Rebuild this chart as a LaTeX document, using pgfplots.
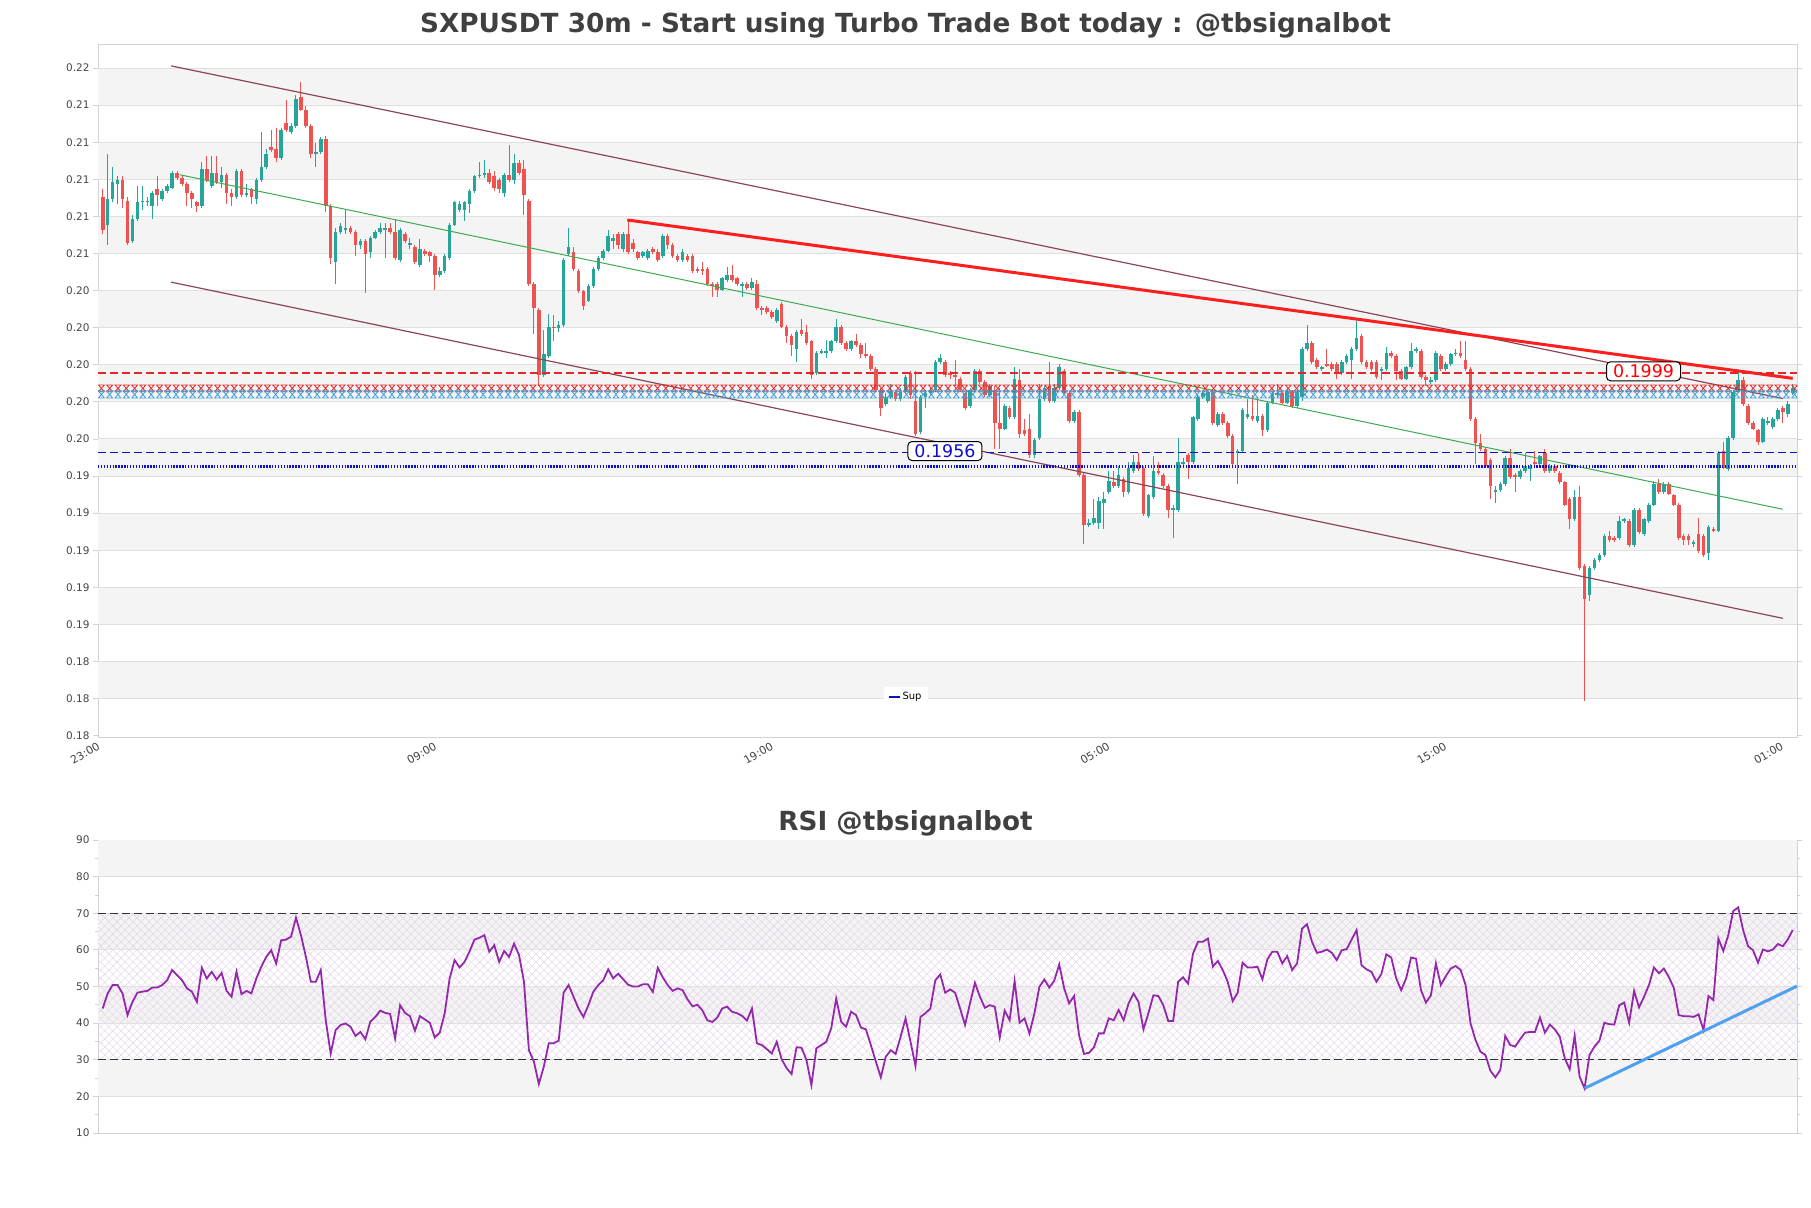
\documentclass[border=0pt]{standalone}
\usepackage{fontspec}
\setmainfont{DejaVu Sans}
\usepackage{pgfplots}
\pgfplotsset{compat=1.18}
\usepackage{pgfplotstable}
\usetikzlibrary{patterns.meta,decorations.markings}

\definecolor{upc}{RGB}{38,166,154}
\definecolor{dnc}{RGB}{239,83,80}
\definecolor{band}{RGB}{244,244,244}
\definecolor{gridc}{RGB}{224,224,224}
\definecolor{framec}{RGB}{210,210,210}
\definecolor{tickc}{RGB}{68,68,68}
\definecolor{titlec}{RGB}{64,64,64}
\definecolor{chan}{RGB}{140,70,85}
\definecolor{midg}{RGB}{60,170,80}
\definecolor{resred}{RGB}{255,30,30}
\definecolor{dashred}{RGB}{225,40,40}
\definecolor{supblue}{RGB}{15,15,200}
\definecolor{cyanc}{RGB}{60,160,220}
\definecolor{rsic}{RGB}{148,40,170}
\definecolor{trendc}{RGB}{80,160,240}
\definecolor{hatchc}{RGB}{226,206,232}

% o h l c
\pgfplotstableread{
o h l c
0.2094 0.2098 0.2074 0.2076
0.2079 0.2117 0.2068 0.2093
0.2093 0.2110 0.2091 0.2102
0.2101 0.2105 0.2090 0.2103
0.2103 0.2105 0.2088 0.2093
0.2092 0.2094 0.2068 0.2069
0.2070 0.2084 0.2069 0.2082
0.2082 0.2100 0.2081 0.2091
0.2091 0.2100 0.2087 0.2092
0.2091 0.2094 0.2089 0.2092
0.2089 0.2097 0.2082 0.2096
0.2098 0.2105 0.2089 0.2095
0.2093 0.2098 0.2092 0.2097
0.2097 0.2101 0.2096 0.2100
0.2099 0.2108 0.2098 0.2107
0.2107 0.2108 0.2103 0.2104
0.2104 0.2105 0.2100 0.2101
0.2101 0.2102 0.2089 0.2096
0.2096 0.2097 0.2088 0.2093
0.2091 0.2092 0.2086 0.2089
0.2089 0.2113 0.2088 0.2109
0.2109 0.2116 0.2102 0.2103
0.2100 0.2116 0.2099 0.2107
0.2107 0.2116 0.2101 0.2102
0.2102 0.2110 0.2099 0.2106
0.2106 0.2107 0.2090 0.2096
0.2096 0.2098 0.2089 0.2094
0.2094 0.2109 0.2093 0.2108
0.2108 0.2109 0.2094 0.2095
0.2095 0.2101 0.2094 0.2096
0.2098 0.2099 0.2090 0.2094
0.2093 0.2104 0.2090 0.2103
0.2103 0.2129 0.2102 0.2110
0.2110 0.2120 0.2109 0.2117
0.2121 0.2130 0.2118 0.2119
0.2120 0.2131 0.2113 0.2115
0.2115 0.2131 0.2114 0.2130
0.2134 0.2146 0.2129 0.2130
0.2129 0.2134 0.2128 0.2132
0.2132 0.2149 0.2131 0.2147
0.2148 0.2156 0.2140 0.2141
0.2141 0.2143 0.2131 0.2132
0.2132 0.2133 0.2115 0.2117
0.2117 0.2123 0.2110 0.2118
0.2118 0.2126 0.2117 0.2125
0.2125 0.2127 0.2086 0.2089
0.2089 0.2090 0.2058 0.2061
0.2059 0.2077 0.2047 0.2075
0.2075 0.2080 0.2074 0.2078
0.2076 0.2087 0.2074 0.2077
0.2077 0.2078 0.2074 0.2075
0.2075 0.2076 0.2062 0.2068
0.2068 0.2071 0.2066 0.2070
0.2070 0.2071 0.2042 0.2063
0.2064 0.2073 0.2061 0.2072
0.2072 0.2076 0.2071 0.2075
0.2075 0.2080 0.2074 0.2077
0.2076 0.2080 0.2061 0.2077
0.2077 0.2080 0.2074 0.2075
0.2075 0.2082 0.2060 0.2061
0.2060 0.2077 0.2059 0.2076
0.2074 0.2075 0.2069 0.2070
0.2068 0.2072 0.2066 0.2069
0.2067 0.2068 0.2058 0.2059
0.2057 0.2071 0.2056 0.2066
0.2065 0.2066 0.2062 0.2063
0.2064 0.2065 0.2059 0.2062
0.2062 0.2063 0.2044 0.2052
0.2052 0.2056 0.2051 0.2054
0.2054 0.2063 0.2053 0.2062
0.2061 0.2080 0.2060 0.2079
0.2079 0.2092 0.2078 0.2091
0.2087 0.2092 0.2086 0.2090
0.2087 0.2092 0.2081 0.2091
0.2090 0.2098 0.2085 0.2097
0.2097 0.2106 0.2096 0.2105
0.2105 0.2113 0.2104 0.2106
0.2106 0.2114 0.2104 0.2107
0.2107 0.2109 0.2101 0.2102
0.2105 0.2108 0.2097 0.2099
0.2103 0.2104 0.2096 0.2098
0.2096 0.2107 0.2094 0.2106
0.2106 0.2122 0.2102 0.2103
0.2103 0.2117 0.2101 0.2112
0.2112 0.2114 0.2106 0.2107
0.2109 0.2114 0.2084 0.2095
0.2092 0.2093 0.2046 0.2047
0.2047 0.2048 0.2020 0.2034
0.2033 0.2034 0.1992 0.1998
0.1998 0.2022 0.1997 0.2009
0.2008 0.2031 0.2007 0.2024
0.2024 0.2030 0.2016 0.2023
0.2023 0.2027 0.2021 0.2025
0.2025 0.2061 0.2024 0.2060
0.2063 0.2077 0.2062 0.2067
0.2064 0.2067 0.2054 0.2055
0.2054 0.2055 0.2042 0.2043
0.2043 0.2044 0.2033 0.2035
0.2038 0.2047 0.2037 0.2046
0.2046 0.2056 0.2045 0.2055
0.2055 0.2062 0.2054 0.2061
0.2061 0.2066 0.2060 0.2065
0.2065 0.2076 0.2064 0.2073
0.2070 0.2074 0.2066 0.2072
0.2074 0.2075 0.2066 0.2068
0.2066 0.2075 0.2064 0.2074
0.2074 0.2082 0.2063 0.2064
0.2069 0.2071 0.2064 0.2066
0.2064 0.2065 0.2060 0.2061
0.2062 0.2065 0.2061 0.2064
0.2061 0.2066 0.2060 0.2065
0.2066 0.2067 0.2063 0.2064
0.2064 0.2066 0.2059 0.2060
0.2062 0.2074 0.2061 0.2073
0.2073 0.2074 0.2066 0.2068
0.2068 0.2069 0.2061 0.2062
0.2062 0.2063 0.2059 0.2060
0.2060 0.2066 0.2059 0.2064
0.2062 0.2063 0.2059 0.2060
0.2062 0.2063 0.2053 0.2054
0.2055 0.2056 0.2053 0.2054
0.2055 0.2059 0.2052 0.2054
0.2055 0.2056 0.2046 0.2047
0.2047 0.2048 0.2040 0.2046
0.2047 0.2048 0.2040 0.2044
0.2044 0.2051 0.2043 0.2050
0.2049 0.2056 0.2048 0.2052
0.2052 0.2057 0.2048 0.2049
0.2050 0.2051 0.2046 0.2047
0.2046 0.2048 0.2040 0.2047
0.2047 0.2048 0.2044 0.2045
0.2045 0.2050 0.2044 0.2048
0.2047 0.2049 0.2033 0.2034
0.2034 0.2035 0.2030 0.2033
0.2034 0.2035 0.2031 0.2032
0.2032 0.2033 0.2028 0.2029
0.2027 0.2034 0.2026 0.2033
0.2036 0.2037 0.2023 0.2024
0.2024 0.2025 0.2015 0.2019
0.2019 0.2020 0.2008 0.2014
0.2012 0.2022 0.2005 0.2021
0.2022 0.2028 0.2019 0.2020
0.2021 0.2025 0.2014 0.2015
0.2016 0.2017 0.1996 0.1998
0.1999 0.2011 0.1998 0.2010
0.2010 0.2012 0.2009 0.2011
0.2010 0.2017 0.2007 0.2011
0.2011 0.2017 0.2010 0.2016
0.2016 0.2028 0.2015 0.2024
0.2024 0.2025 0.2014 0.2015
0.2015 0.2016 0.2011 0.2012
0.2012 0.2017 0.2011 0.2016
0.2016 0.2020 0.2013 0.2014
0.2014 0.2015 0.2007 0.2009
0.2009 0.2015 0.2007 0.2008
0.2008 0.2009 0.2000 0.2001
0.2001 0.2002 0.1989 0.1990
0.1990 0.1991 0.1976 0.1980
0.1982 0.1988 0.1981 0.1986
0.1986 0.1993 0.1985 0.1989
0.1989 0.1990 0.1984 0.1985
0.1985 0.1991 0.1984 0.1989
0.1989 0.1998 0.1988 0.1997
0.1999 0.2000 0.1985 0.1987
0.1984 0.2000 0.1965 0.1966
0.1967 0.1987 0.1966 0.1986
0.1986 0.1990 0.1980 0.1988
0.1988 0.1991 0.1987 0.1990
0.1990 0.2006 0.1989 0.2005
0.2005 0.2009 0.2004 0.2007
0.2005 0.2006 0.1997 0.1998
0.1999 0.2000 0.1996 0.1998
0.1998 0.2006 0.1992 0.1997
0.1996 0.1997 0.1989 0.1990
0.1988 0.1989 0.1979 0.1980
0.1981 0.1991 0.1980 0.1990
0.1990 0.2001 0.1989 0.2000
0.2000 0.2001 0.1993 0.1994
0.1994 0.1995 0.1986 0.1987
0.1987 0.1993 0.1986 0.1992
0.1990 0.1992 0.1958 0.1972
0.1972 0.1991 0.1958 0.1969
0.1969 0.1982 0.1968 0.1981
0.1980 0.1981 0.1974 0.1975
0.1975 0.2002 0.1974 0.1996
0.1995 0.2001 0.1964 0.1966
0.1968 0.1974 0.1965 0.1966
0.1969 0.1977 0.1953 0.1955
0.1955 0.1964 0.1953 0.1963
0.1964 0.1993 0.1963 0.1985
0.1985 0.1992 0.1984 0.1991
0.1992 0.2005 0.1983 0.1984
0.1984 0.1993 0.1983 0.1991
0.1991 0.2004 0.1990 0.2002
0.2000 0.2001 0.1987 0.1988
0.1988 0.1989 0.1972 0.1973
0.1973 0.1979 0.1972 0.1978
0.1978 0.1979 0.1943 0.1944
0.1944 0.1945 0.1907 0.1917
0.1917 0.1920 0.1916 0.1918
0.1918 0.1931 0.1917 0.1921
0.1918 0.1932 0.1915 0.1930
0.1929 0.1935 0.1915 0.1931
0.1935 0.1946 0.1934 0.1941
0.1940 0.1946 0.1937 0.1938
0.1938 0.1949 0.1937 0.1944
0.1942 0.1943 0.1932 0.1935
0.1935 0.1951 0.1934 0.1948
0.1946 0.1955 0.1945 0.1951
0.1951 0.1956 0.1946 0.1947
0.1948 0.1949 0.1922 0.1923
0.1922 0.1934 0.1921 0.1933
0.1932 0.1954 0.1931 0.1946
0.1946 0.1951 0.1944 0.1945
0.1944 0.1945 0.1937 0.1938
0.1938 0.1939 0.1921 0.1925
0.1925 0.1928 0.1910 0.1926
0.1925 0.1964 0.1924 0.1951
0.1950 0.1953 0.1949 0.1951
0.1955 0.1956 0.1942 0.1951
0.1951 0.1976 0.1950 0.1975
0.1974 0.1987 0.1973 0.1986
0.1986 0.1989 0.1985 0.1988
0.1984 0.1990 0.1983 0.1989
0.1989 0.1990 0.1971 0.1972
0.1971 0.1978 0.1970 0.1977
0.1977 0.1978 0.1971 0.1972
0.1972 0.1973 0.1964 0.1965
0.1965 0.1966 0.1949 0.1950
0.1956 0.1958 0.1939 0.1957
0.1957 0.1980 0.1956 0.1979
0.1975 0.1985 0.1974 0.1977
0.1976 0.1987 0.1973 0.1974
0.1973 0.1986 0.1972 0.1976
0.1976 0.1977 0.1965 0.1968
0.1968 0.1984 0.1967 0.1983
0.1983 0.1989 0.1982 0.1988
0.1987 0.1993 0.1986 0.1988
0.1988 0.1989 0.1982 0.1983
0.1983 0.1990 0.1982 0.1989
0.1989 0.1990 0.1980 0.1981
0.1981 0.1990 0.1980 0.1989
0.1986 0.2013 0.1984 0.2012
0.2012 0.2025 0.2011 0.2015
0.2015 0.2016 0.2004 0.2005
0.2006 0.2007 0.2001 0.2002
0.2001 0.2003 0.2000 0.2002
0.2004 0.2012 0.2002 0.2003
0.2004 0.2005 0.2000 0.2001
0.2004 0.2005 0.1996 0.1999
0.1999 0.2006 0.1998 0.2005
0.2005 0.2009 0.2004 0.2008
0.2006 0.2013 0.1996 0.2012
0.2012 0.2027 0.2011 0.2018
0.2019 0.2020 0.2004 0.2005
0.2005 0.2006 0.2001 0.2002
0.2005 0.2006 0.2000 0.2001
0.2005 0.2006 0.1996 0.1997
0.2000 0.2002 0.1995 0.2001
0.2001 0.2013 0.2000 0.2010
0.2010 0.2011 0.2007 0.2008
0.2008 0.2009 0.1995 0.2000
0.2000 0.2001 0.1995 0.1996
0.1996 0.2003 0.1995 0.2002
0.2002 0.2015 0.2001 0.2011
0.2011 0.2013 0.2010 0.2012
0.2011 0.2012 0.1996 0.1997
0.1997 0.1998 0.1992 0.1995
0.1994 0.1997 0.1993 0.1995
0.1995 0.2011 0.1994 0.2010
0.2008 0.2009 0.2000 0.2001
0.2001 0.2005 0.2000 0.2004
0.2004 0.2010 0.2003 0.2009
0.2009 0.2012 0.2008 0.2010
0.2010 0.2016 0.2007 0.2008
0.2006 0.2016 0.2000 0.2001
0.2001 0.2002 0.1973 0.1974
0.1974 0.1975 0.1950 0.1961
0.1961 0.1966 0.1957 0.1958
0.1958 0.1959 0.1948 0.1949
0.1952 0.1953 0.1931 0.1938
0.1935 0.1938 0.1929 0.1936
0.1936 0.1940 0.1935 0.1939
0.1939 0.1954 0.1938 0.1953
0.1953 0.1958 0.1942 0.1943
0.1944 0.1945 0.1935 0.1943
0.1943 0.1947 0.1942 0.1946
0.1946 0.1956 0.1945 0.1949
0.1947 0.1950 0.1941 0.1949
0.1951 0.1957 0.1949 0.1950
0.1950 0.1955 0.1949 0.1954
0.1956 0.1958 0.1945 0.1946
0.1946 0.1950 0.1945 0.1949
0.1949 0.1950 0.1945 0.1946
0.1945 0.1946 0.1939 0.1940
0.1940 0.1941 0.1927 0.1928
0.1931 0.1932 0.1915 0.1920
0.1920 0.1936 0.1919 0.1932
0.1932 0.1938 0.1893 0.1894
0.1895 0.1896 0.1822 0.1877
0.1879 0.1895 0.1876 0.1894
0.1894 0.1899 0.1893 0.1898
0.1898 0.1902 0.1897 0.1901
0.1901 0.1912 0.1900 0.1911
0.1911 0.1914 0.1908 0.1909
0.1910 0.1911 0.1908 0.1909
0.1910 0.1922 0.1909 0.1919
0.1919 0.1921 0.1918 0.1920
0.1919 0.1920 0.1905 0.1906
0.1906 0.1926 0.1905 0.1925
0.1925 0.1926 0.1912 0.1913
0.1912 0.1921 0.1911 0.1920
0.1919 0.1929 0.1918 0.1928
0.1928 0.1941 0.1927 0.1939
0.1939 0.1942 0.1934 0.1935
0.1935 0.1940 0.1934 0.1939
0.1939 0.1940 0.1933 0.1934
0.1933 0.1934 0.1927 0.1928
0.1928 0.1929 0.1909 0.1910
0.1911 0.1912 0.1906 0.1909
0.1911 0.1912 0.1906 0.1909
0.1907 0.1909 0.1905 0.1908
0.1912 0.1921 0.1902 0.1903
0.1911 0.1912 0.1900 0.1901
0.1902 0.1917 0.1898 0.1916
0.1915 0.1916 0.1913 0.1914
0.1914 0.1957 0.1913 0.1956
0.1957 0.1962 0.1947 0.1948
0.1947 0.1965 0.1946 0.1964
0.1964 0.1990 0.1963 0.1989
0.1989 0.2000 0.1988 0.1995
0.1995 0.1997 0.1981 0.1982
0.1981 0.1982 0.1971 0.1972
0.1972 0.1973 0.1968 0.1969
0.1968 0.1969 0.1960 0.1962
0.1962 0.1975 0.1961 0.1974
0.1972 0.1975 0.1971 0.1973
0.1970 0.1975 0.1969 0.1974
0.1974 0.1980 0.1973 0.1979
0.1980 0.1981 0.1972 0.1978
0.1977 0.1984 0.1975 0.1982
0.1988 0.1993 0.1987 0.1991
}\candles

\pgfplotstableread{
r
44.0
48.1
50.4
50.4
48.1
42.2
45.8
48.3
48.6
48.8
49.7
49.7
50.4
51.7
54.5
53.1
51.7
49.5
48.6
45.8
55.1
52.2
54.0
51.9
53.7
48.8
47.2
54.0
47.9
48.8
48.1
52.2
55.4
58.1
59.9
56.3
62.6
62.8
63.6
68.8
64.0
58.1
51.3
51.3
54.5
40.8
31.7
38.1
39.5
39.9
39.0
36.5
37.6
35.6
40.4
41.7
43.4
42.8
42.5
35.8
44.9
42.8
41.9
37.9
41.9
41.0
40.1
36.1
37.4
42.6
52.2
57.2
55.2
56.7
59.5
62.8
63.3
64.0
59.5
61.3
56.7
59.7
58.1
61.7
58.6
51.3
32.6
29.5
23.4
28.1
34.5
34.5
35.2
48.3
50.4
47.2
44.0
41.7
44.9
48.6
50.4
51.7
54.7
52.2
53.5
52.0
50.5
50.0
50.0
50.6
50.6
48.5
55.1
52.5
50.4
48.8
49.5
49.0
46.5
44.6
45.0
43.5
40.8
40.3
41.5
44.0
44.5
43.1
42.7
42.0
40.7
44.0
34.5
34.0
32.9
31.7
34.9
30.1
27.7
26.1
33.4
33.3
29.9
23.1
33.1
34.0
34.9
38.6
46.7
40.4
39.0
43.1
42.2
38.8
38.3
34.0
29.5
25.2
30.8
32.6
31.6
36.3
41.3
34.9
28.3
41.7
42.7
44.0
51.7
53.3
48.3
49.2
48.3
44.0
39.5
45.4
51.0
47.2
44.2
44.9
44.5
36.1
43.4
40.8
51.5
40.1
41.3
37.2
42.7
49.9
51.9
49.7
51.6
56.0
49.5
45.4
47.4
36.7
31.6
31.9
33.4
37.2
37.2
41.3
40.8
43.6
40.8
45.4
48.1
45.8
38.3
42.7
47.6
47.4
44.9
40.6
40.6
51.3
52.5
50.8
59.0
62.2
62.2
63.1
55.4
57.0
54.5
51.3
46.0
48.3
56.5
55.2
55.2
55.4
52.0
57.4
59.5
59.5
56.3
58.3
54.5
56.3
65.8
67.0
62.2
59.2
59.5
60.1
59.2
57.2
59.9
60.2
62.8
65.4
55.8
54.7
54.0
51.3
53.4
58.8
57.9
52.2
49.0
52.2
57.9
57.6
49.0
45.6
47.6
56.3
50.4
52.8
54.9
55.6
54.5
50.4
39.9
35.4
32.2
31.3
27.0
25.2
27.2
36.5
34.0
33.6
35.6
37.4
37.6
37.6
41.5
37.4
39.6
38.3
36.3
30.4
27.4
36.6
25.4
22.2
31.3
33.6
35.2
40.1
39.7
39.6
44.9
45.6
40.1
48.8
44.3
47.2
50.4
55.2
53.6
54.9
52.6
49.7
42.2
41.9
41.9
41.7
42.4
38.1
47.4
46.3
63.1
59.7
64.0
70.6
71.6
65.4
61.0
59.9
56.5
60.1
59.6
60.1
61.6
61.0
62.8
65.4
}\rsi

\pgfplotsset{
  wick/.style={draw=none, mark=none, forget plot,
    error bars/.cd, y dir=plus, y explicit, error mark=none,
    error bar style={draw=#1, line width=1bp}},
  body/.style={draw=none, mark=none, forget plot,
    error bars/.cd, y dir=plus, y explicit, error mark=none,
    error bar style={draw=#1, line width=3.6bp}},
  chartbase/.style={anchor=south west, scale only axis, width=1699bp,
    xmin=-0.95, xmax=341.87,
    axis line style={framec, line width=0.8bp},
    tick align=outside, major tick length=5bp, minor tick length=3bp,
    tick style={framec, line width=0.8bp},
    /pgf/number format/assume math mode=true,
    yticklabel style={font=\fontsize{10.5}{12}\selectfont, text=tickc},
    scaled y ticks=false},
}

\newcommand{\xl}{-0.95}
\newcommand{\xr}{341.87}

\begin{document}
\begin{tikzpicture}
\path[use as bounding box] (0,0) rectangle (1811bp,1208bp);

\node[anchor=base, text=titlec, font=\fontsize{26.4}{30}\selectfont\bfseries]
  at (905.5bp,1175bp) {SXPUSDT 30m - Start using Turbo Trade Bot today : @tbsignalbot};
\node[anchor=base, text=titlec, font=\fontsize{26.4}{30}\selectfont\bfseries]
  at (905.5bp,377.5bp) {RSI @tbsignalbot};

% price panel
\begin{axis}[chartbase, at={(98bp,471bp)}, height=693bp,
  ymin=0.18027, ymax=0.21764,
  ytick={0.18034,0.18234,0.18434,0.18634,0.18834,0.19034,0.19234,0.19434,0.19634,0.19834,0.20034,0.20234,0.20434,0.20634,0.20834,0.21034,0.21234,0.21434,0.21634},
  yticklabels={0.18,0.18,0.18,0.19,0.19,0.19,0.19,0.19,0.20,0.20,0.20,0.20,0.20,0.21,0.21,0.21,0.21,0.21,0.22},
  xtick={-0.95,66.99,134.93,202.86,270.80,338.74},
  xticklabels={23:00,09:00,19:00,05:00,15:00,01:00},
  xtick style={draw=none},
  xticklabel style={rotate=30, anchor=north east, inner sep=1bp, yshift=2bp,
    font=\fontsize{11}{12}\selectfont, text=tickc},
  legend style={at={(0.4753,0.0584)}, anchor=center, draw=none, fill=white,
    font=\fontsize{10}{12}\selectfont, inner xsep=4bp, inner ysep=3bp},
  legend image code/.code={\draw[supblue, solid, line width=2bp] (0bp,0bp) -- (11bp,0bp);},
]
\fill[band] (axis cs:\xl,0.21434) rectangle (axis cs:\xr,0.21634);
\fill[band] (axis cs:\xl,0.21034) rectangle (axis cs:\xr,0.21234);
\fill[band] (axis cs:\xl,0.20634) rectangle (axis cs:\xr,0.20834);
\fill[band] (axis cs:\xl,0.20234) rectangle (axis cs:\xr,0.20434);
\fill[band] (axis cs:\xl,0.19834) rectangle (axis cs:\xr,0.20034);
\fill[band] (axis cs:\xl,0.19434) rectangle (axis cs:\xr,0.19634);
\fill[band] (axis cs:\xl,0.19034) rectangle (axis cs:\xr,0.19234);
\fill[band] (axis cs:\xl,0.18634) rectangle (axis cs:\xr,0.18834);
\fill[band] (axis cs:\xl,0.18234) rectangle (axis cs:\xr,0.18434);
\pgfplotsinvokeforeach{0.18234,0.18434,0.18634,0.18834,0.19034,0.19234,0.19434,0.19634,0.19834,0.20034,0.20234,0.20434,0.20634,0.20834,0.21034,0.21234,0.21434,0.21634}
  {\draw[gridc, line width=1bp] (axis cs:\xl,#1) -- (axis cs:\xr,#1);}

% candles: wicks then bodies
\addplot[wick=upc] table[x expr=\coordindex,
  y expr={\thisrow{c}>=\thisrow{o} ? \thisrow{l} : nan},
  y error expr={\thisrow{h}-\thisrow{l}}] {\candles};
\addplot[wick=dnc] table[x expr=\coordindex,
  y expr={\thisrow{c}<\thisrow{o} ? \thisrow{l} : nan},
  y error expr={\thisrow{h}-\thisrow{l}}] {\candles};
\addplot[body=upc] table[x expr=\coordindex,
  y expr={\thisrow{c}>=\thisrow{o} ? \thisrow{o} : nan},
  y error expr={max(\thisrow{c}-\thisrow{o},0.00004)}] {\candles};
\addplot[body=dnc] table[x expr=\coordindex,
  y expr={\thisrow{c}<\thisrow{o} ? \thisrow{c} : nan},
  y error expr={max(\thisrow{o}-\thisrow{c},0.00004)}] {\candles};

% channel and trend lines
\addplot[chan, line width=1.2bp, forget plot] coordinates {(13.78,0.21646) (339.0,0.19852)};
\addplot[chan, line width=1.2bp, forget plot] coordinates {(13.78,0.20480) (339.0,0.18667)};
\addplot[midg, line width=1bp, forget plot] coordinates {(15.54,0.21059) (339.0,0.19255)};
\addplot[resred, line width=3bp, forget plot] coordinates {(105.85,0.20815) (341.0,0.19961)};

% marker rows
\addplot[draw=none, forget plot,
  postaction={decorate}, decoration={markings, mark=between positions 0.002 and 1 step 8.3bp with
  {\draw[dashred, line width=0.8bp] (-3bp,3.4bp) -- (3bp,3.4bp) -- (-3bp,-3.4bp) -- (3bp,-3.4bp) -- cycle;}}]
  coordinates {(\xl,0.19907) (\xr,0.19907)};
\addplot[draw=none, forget plot,
  postaction={decorate}, decoration={markings, mark=between positions 0.002 and 1 step 8.3bp with
  {\draw[cyanc, line width=0.8bp] (-3bp,3.6bp) -- (3bp,3.6bp) -- (-3bp,-3.6bp) -- (3bp,-3.6bp) -- cycle;}}]
  coordinates {(\xl,0.19874) (\xr,0.19874)};

% horizontal levels
\addplot[dashred, line width=1.2bp, dash pattern=on 8bp off 4bp, forget plot] coordinates {(\xl,0.1999) (\xr,0.1999)};
\addplot[supblue, line width=1.2bp, dash pattern=on 8bp off 4bp, forget plot] coordinates {(\xl,0.1956) (\xr,0.1956)};
\addplot[supblue, line width=3bp, dash pattern=on 1.4bp off 1.5bp] coordinates {(\xl,0.19488) (\xr,0.19488)};
\addlegendentry{Sup}

\node[draw=black, fill=white, rounded corners=4bp, line width=1bp, text=red,
  font=\fontsize{17.5}{20}\selectfont, minimum width=74bp, minimum height=19bp, inner sep=0pt]
  at (axis cs:310.9,0.19999) {0.1999};
\node[draw=black, fill=white, rounded corners=4bp, line width=1bp, text=supblue,
  font=\fontsize{17.5}{20}\selectfont, minimum width=74bp, minimum height=19bp, inner sep=0pt]
  at (axis cs:169.95,0.19569) {0.1956};
\end{axis}

% RSI panel
\begin{axis}[chartbase, at={(98bp,75bp)}, height=293bp,
  ymin=10, ymax=90, ytick={10,20,...,90}, minor ytick={15,25,...,85},
  yticklabel={\pgfmathprintnumber{\tick}},
  xtick=\empty,
]
\fill[band] (axis cs:\xl,20) rectangle (axis cs:\xr,30);
\fill[band] (axis cs:\xl,40) rectangle (axis cs:\xr,50);
\fill[band] (axis cs:\xl,60) rectangle (axis cs:\xr,70);
\fill[band] (axis cs:\xl,80) rectangle (axis cs:\xr,90);
\fill[pattern={Lines[angle=45,distance=5.7bp,line width=0.4bp]}, pattern color=hatchc]
  (axis cs:\xl,30) rectangle (axis cs:\xr,70);
\fill[pattern={Lines[angle=-45,distance=5.7bp,line width=0.4bp]}, pattern color=hatchc]
  (axis cs:\xl,30) rectangle (axis cs:\xr,70);
\pgfplotsinvokeforeach{20,30,40,50,60,70,80}
  {\draw[gridc, line width=1bp] (axis cs:\xl,#1) -- (axis cs:\xr,#1);}
\addplot[black!80, line width=1.3bp, dash pattern=on 8bp off 4bp] coordinates {(\xl,70) (\xr,70)};
\addplot[black!80, line width=1.3bp, dash pattern=on 8bp off 4bp] coordinates {(\xl,30) (\xr,30)};
\addplot[rsic, line width=1.8bp] table[x expr=\coordindex, y=r] {\rsi};
\addplot[trendc, line width=3bp] coordinates {(299,22.2) (341.87,50.1)};
\end{axis}
\end{tikzpicture}
\end{document}
